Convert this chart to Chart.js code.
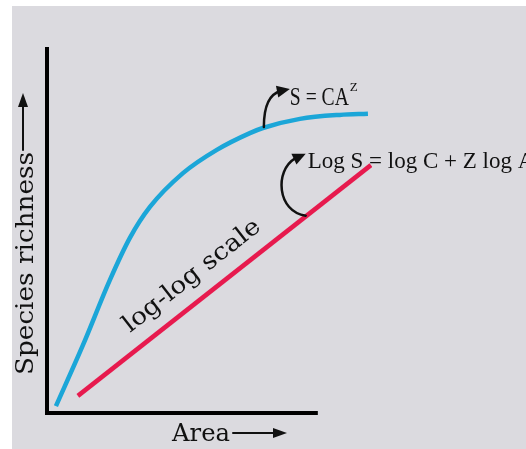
<!DOCTYPE html>
<html lang="en">
<head>
<meta charset="UTF-8">
<title>Species area relationship</title>
<script src="https://cdn.jsdelivr.net/npm/chart.js"></script>
<style>
  html, body { margin: 0; padding: 0; background: #fff; }
  #wrap { width: 526px; height: 449px; }
</style>
</head>
<body>
<div id="wrap"><canvas id="chart" width="526" height="449"></canvas></div>
<script>
// area (x) and species richness (y), arbitrary units
var curveArea = [3.3, 13.3, 23.2, 30.6, 38.0, 50.2, 62.7, 74.9, 79.7, 93.4, 108.1, 118.5];
var curveRichness = [1.9, 18.7, 36.5, 48.1, 56.6, 65.9, 72.3, 76.9, 78.3, 80.8, 81.9, 82.2];
var logArea = [11.4, 119.6];
var logRichness = [4.7, 68.1];
var axisArea = [0, 100];   // drawn length of the area axis

var SERIF = '"DejaVu Serif", serif';
var TIMES = '"Liberation Serif", serif';
var BLUE = '#1ba6d8';
var RED = '#e71a4e';

function pts(xs, ys) {
  return xs.map(function (x, i) { return { x: x, y: ys[i] }; });
}

// draw text squeezed horizontally to a given width
function fitText(ctx, text, x, y, font, width, angle) {
  ctx.save();
  ctx.font = font;
  var sx = width / ctx.measureText(text).width;
  ctx.translate(x, y);
  if (angle) ctx.rotate(angle);
  ctx.scale(sx, 1);
  ctx.fillText(text, 0, 0);
  ctx.restore();
}

function arrowHead(ctx, fx, fy, tx, ty, len, w) {
  var a = Math.atan2(ty - fy, tx - fx);
  ctx.beginPath();
  ctx.moveTo(tx, ty);
  ctx.lineTo(tx - len * Math.cos(a) + w * Math.sin(a), ty - len * Math.sin(a) - w * Math.cos(a));
  ctx.lineTo(tx - len * Math.cos(a) - w * Math.sin(a), ty - len * Math.sin(a) + w * Math.cos(a));
  ctx.closePath();
  ctx.fill();
}

var backdrop = {
  id: 'backdrop',
  beforeDraw: function (chart) {
    var ctx = chart.ctx;
    ctx.save();
    ctx.fillStyle = '#dbdadf';
    ctx.fillRect(12, 6, chart.width - 12, chart.height - 6);
    ctx.restore();
  }
};

var notes = {
  id: 'notes',
  afterDraw: function (chart) {
    var ctx = chart.ctx;
    var xs = chart.scales.x, ys = chart.scales.y;
    ctx.save();
    ctx.fillStyle = '#111';
    ctx.strokeStyle = '#000';
    ctx.textBaseline = 'alphabetic';

    // area axis, shorter than the plotted curves
    var y0 = ys.getPixelForValue(0);
    ctx.lineWidth = 4;
    ctx.beginPath();
    ctx.moveTo(xs.getPixelForValue(axisArea[0]) - 2, y0);
    ctx.lineTo(xs.getPixelForValue(axisArea[1]), y0);
    ctx.stroke();

    ctx.strokeStyle = '#111';
    ctx.lineCap = 'round';

    // axis titles
    fitText(ctx, 'Area', 172, 441, '24px ' + SERIF, 58);
    ctx.lineWidth = 2;
    ctx.beginPath(); ctx.moveTo(233, 433); ctx.lineTo(278, 433); ctx.stroke();
    arrowHead(ctx, 270, 433, 287, 433, 14, 5);

    fitText(ctx, 'Species richness', 33, 375, '24px ' + SERIF, 223, -Math.PI / 2);
    ctx.beginPath(); ctx.moveTo(23, 150); ctx.lineTo(23, 104); ctx.stroke();
    arrowHead(ctx, 23, 110, 23, 93, 14, 5);

    // S = CA^z, hooked arrow from the curve
    var p = chart.getDatasetMeta(0).data[8];
    ctx.lineWidth = 2.5;
    ctx.beginPath();
    ctx.moveTo(p.x + 1, p.y - 1);
    ctx.bezierCurveTo(p.x + 1, p.y - 22, p.x + 6, p.y - 34, p.x + 18, p.y - 37);
    ctx.stroke();
    arrowHead(ctx, p.x + 12, p.y - 36, p.x + 27, p.y - 39, 13, 6);
    fitText(ctx, 'S = CA', p.x + 27, p.y - 23, '25px ' + TIMES, 59);
    ctx.font = '13px ' + TIMES;
    ctx.fillText('Z', p.x + 87, p.y - 37);

    // Log S = log C + Z log A, hooked arrow from the straight line
    var ax = 95.9;
    var ay = logRichness[0] + (ax - logArea[0]) * (logRichness[1] - logRichness[0]) / (logArea[1] - logArea[0]);
    var qx = xs.getPixelForValue(ax), qy = ys.getPixelForValue(ay);
    ctx.lineWidth = 2.5;
    ctx.beginPath();
    ctx.moveTo(qx - 1, qy);
    ctx.bezierCurveTo(qx - 30, qy - 4, qx - 32, qy - 45, qx - 12, qy - 57);
    ctx.stroke();
    arrowHead(ctx, qx - 16, qy - 55, qx - 1, qy - 62, 13, 6);
    ctx.font = '23px ' + TIMES;
    ctx.fillText('Log S = log C + Z log A', qx + 1, qy - 48);

    // label along the log-log line
    fitText(ctx, 'log-log scale', 130, 333, '24px ' + SERIF, 168, -Math.atan2(396 - 165, 371 - 78));

    ctx.restore();
  }
};

new Chart(document.getElementById('chart'), {
  type: 'scatter',
  data: {
    datasets: [
      {
        label: 'S = CA^z',
        data: pts(curveArea, curveRichness),
        showLine: true,
        borderColor: BLUE,
        borderWidth: 4.5,
        pointRadius: 0,
        cubicInterpolationMode: 'monotone'
      },
      {
        label: 'log-log scale',
        data: pts(logArea, logRichness),
        showLine: true,
        borderColor: RED,
        borderWidth: 4.5,
        pointRadius: 0
      }
    ]
  },
  options: {
    responsive: false,
    animation: false,
    layout: { padding: { left: 39, right: 154, top: 49, bottom: 28 } },
    plugins: { legend: { display: false }, tooltip: { enabled: false } },
    scales: {
      x: {
        type: 'linear', min: 0, max: 120,
        grid: { display: false },
        ticks: { display: false },
        border: { display: false }
      },
      y: {
        type: 'linear', min: 0, max: 100,
        grid: { display: false },
        ticks: { display: false },
        border: { display: true, color: '#000', width: 4 }
      }
    }
  },
  plugins: [backdrop, notes]
});
</script>
</body>
</html>
